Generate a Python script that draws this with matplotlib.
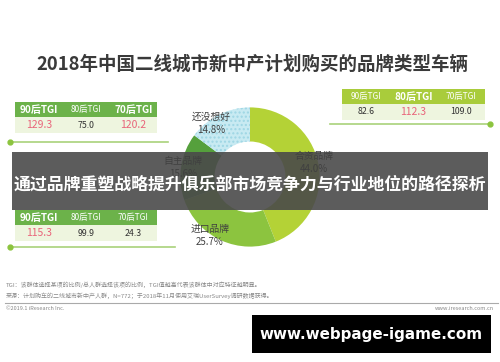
import matplotlib.pyplot as plt
from matplotlib.patches import Rectangle

plt.rcParams['font.family'] = ['Noto Sans CJK SC', 'DejaVu Sans']

title = "2018年中国二线城市新中产计划购买的品牌类型车辆"
banner = "通过品牌重塑战略提升俱乐部市场竞争力与行业地位的路径探析"

# 环形图数据 (从顶部顺时针)
brands = ["合资品牌", "进口品牌", "自主品牌", "还没想好"]
shares = [44.0, 25.7, 15.6, 14.8]
brand_colors = ["#b4d236", "#8cc43f", "#55a03c", "#c8eaf2"]

# TGI 表
tgi_headers = ["90后TGI", "80后TGI", "70后TGI"]
tgi_joint = [82.6, 112.3, 109.0]
tgi_import = [115.3, 99.9, 24.3]
tgi_own = [129.3, 75.0, 120.2]

notes = [
    "TGI：该群体选择某项的比例/总人群选择该项的比例，TGI值越高代表该群体中对应特征越明显。",
    "来源：计划购车的二线城市新中产人群，N=772；于2018年11月使用艾瑞UserSurvey调研数据获得。",
]

W, H = 500, 362
fig = plt.figure(figsize=(W / 100, H / 100), dpi=100)


def px_axes():
    a = fig.add_axes([0, 0, 1, 1])
    a.set_xlim(0, W)
    a.set_ylim(H, 0)
    a.axis("off")
    a.patch.set_alpha(0)
    return a


bg = px_axes()
bg.text(252, 64, title, ha="center", va="center", fontsize=13.3,
        fontweight="bold", color="#3a3a3a")

# 环形图
cx, cy, r = 250, 177, 87
pax = fig.add_axes([(cx - r) / W, (H - cy - r) / H, 2 * r / W, 2 * r / H])
wedges, _ = pax.pie(shares, colors=brand_colors, startangle=90, counterclock=False,
                    wedgeprops=dict(width=0.49, linewidth=0))
wedges[3].set_hatch("....")
wedges[3].set_edgecolor("#9ed6e4")
pax.set_aspect("equal")
pax.axis("off")

# 上层: 标签 + 横幅
top = px_axes()
lab_pos = [(314, 156), (210, 229), (183, 161), (211, 117)]
for name, val, (x, y) in zip(brands, shares, lab_pos):
    top.text(x, y, name, ha="center", va="center", fontsize=7, color="#404040")
    top.text(x, y + 13, f"{val:.1f}%", ha="center", va="center", fontsize=7, color="#404040")


def tgi_table(x0, y0, w, vals, hl, head_color, line_y, line_x, dot_x):
    cw = w / 3
    bg.add_patch(Rectangle((x0, y0), w, 15, color=head_color, lw=0))
    bg.add_patch(Rectangle((x0, y0 + 15), w, 16, color="#eef5df", lw=0))
    for i, (h, v) in enumerate(zip(tgi_headers, vals)):
        xc = x0 + cw * (i + 0.5)
        big = i == hl or v > 110
        bg.text(xc, y0 + 7.5, h, ha="center", va="center", color="white",
                fontsize=7.2 if big else 6, fontweight="bold" if big else "normal")
        red = v > 110
        bg.text(xc, y0 + 23, f"{v:.1f}", ha="center", va="center",
                color="#e9647a" if red else "#333333", fontsize=7.5 if red else 6.3)
    bg.plot(line_x, [line_y, line_y], color="#a9d27a", lw=1.2)
    bg.plot([dot_x], [line_y], "o", color="#8cc43f", ms=3.5)


tgi_table(15, 102, 142, tgi_own, 0, "#6cb24a", 142, [10, 168], 10)
tgi_table(15, 210, 142, tgi_import, 0, "#6cb24a", 247, [10, 175], 10)
tgi_table(342, 89, 143, tgi_joint, 1, "#a9cc3b", 124, [330, 490], 490)

# 覆盖横幅
top.add_patch(Rectangle((12, 152), 476, 58, color="#4a4a4a", alpha=0.9, lw=0))
top.text(250, 185, banner, ha="center", va="center", fontsize=12.2,
         fontweight="bold", color="white")

# 注释
bg.text(6, 285, notes[0], ha="left", va="center", fontsize=4.3, color="#888888")
bg.text(6, 296, notes[1], ha="left", va="center", fontsize=4.3, color="#888888")
bg.plot([5, 498], [303, 303], color="#aaaaaa", lw=0.8)
bg.text(6, 309, "©2019.1 iResearch Inc.", ha="left", va="center", fontsize=4, color="#888888")
bg.text(494, 309, "www.iresearch.com.cn", ha="right", va="center", fontsize=4, color="#888888")

top.add_patch(Rectangle((252, 315), 239, 38, color="black", lw=0))
top.text(371, 334, "www.webpage-igame.com", ha="center", va="center", fontsize=10.9,
         fontweight="bold", color="white", family="DejaVu Sans")

fig.savefig("out.png", dpi=100)
